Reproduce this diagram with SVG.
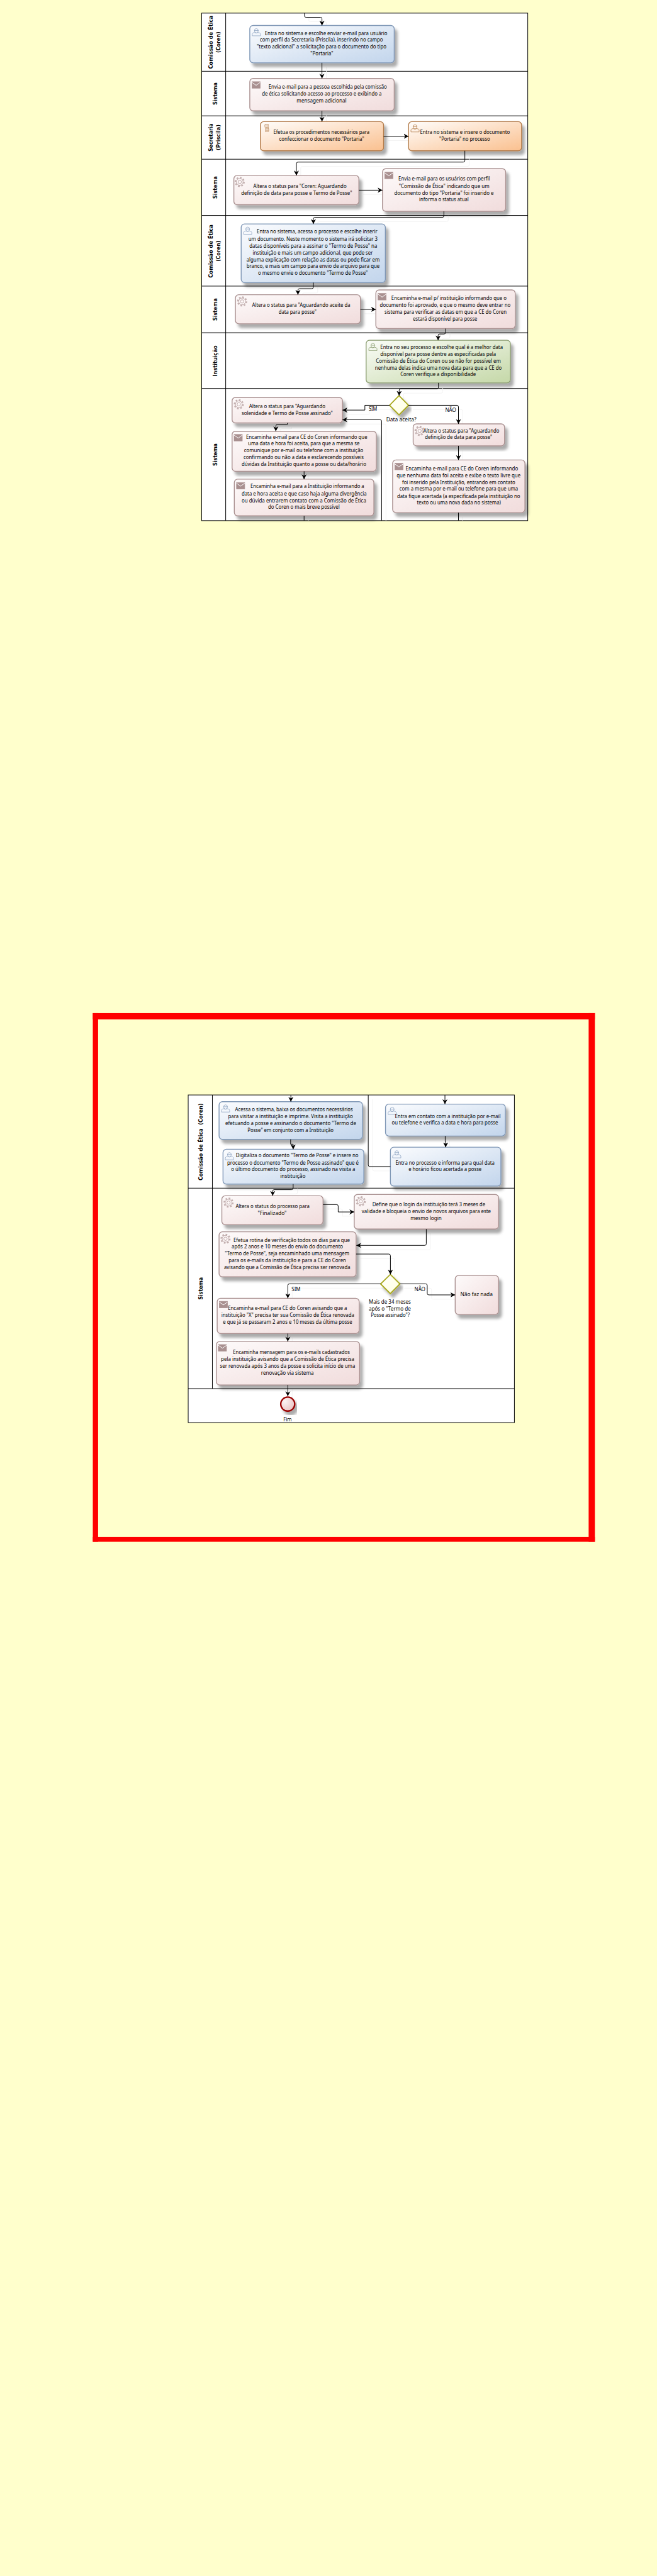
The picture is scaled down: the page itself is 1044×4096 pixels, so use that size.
<svg xmlns="http://www.w3.org/2000/svg" width="1044" height="4096" viewBox="0 0 1044 4096">
<style>
text{fill:#000;white-space:pre}
.t{font-family:"Noto Sans","DejaVu Sans",sans-serif;font-size:11px}
.sw{font-family:"DejaVu Sans","Liberation Sans",sans-serif;font-size:11px;font-weight:700;text-anchor:middle}
.pl{fill:#fff;stroke:#000;stroke-width:1.3}
.ln{stroke:#000;stroke-width:1.3;fill:none}
.b{stroke-width:1.8;filter:url(#sh)}
.blue{fill:url(#gb);stroke:#7f97b6;color:#8ba2c0}
.pink{fill:url(#gp);stroke:#a99090;color:#a99090}
.or{fill:url(#go);stroke:#b27a48;color:#b27a48}
.gr{fill:url(#gg);stroke:#8a9c70;color:#8a9c70}
.conns{fill:none;stroke:#000;stroke-width:1.3;marker-end:url(#arrow)}
.ghost{fill:none;stroke:#f3f3f3;stroke-width:1.3}
.na{marker-end:none}
.ic{fill:none;stroke:currentColor;stroke-width:1}
</style>
<defs>
<linearGradient id="gb" x1="0" y1="0" x2="1" y2="1"><stop offset="0" stop-color="#fbfcfe"/><stop offset="1" stop-color="#c2d5ec"/></linearGradient>
<linearGradient id="gp" x1="0" y1="0" x2="1" y2="1"><stop offset="0" stop-color="#fdfafa"/><stop offset="1" stop-color="#f1dcdc"/></linearGradient>
<linearGradient id="go" x1="0" y1="0" x2="1" y2="1"><stop offset="0" stop-color="#fffdfb"/><stop offset="1" stop-color="#fac08f"/></linearGradient>
<linearGradient id="gg" x1="0" y1="0" x2="1" y2="1"><stop offset="0" stop-color="#fafcf7"/><stop offset="1" stop-color="#c5d8a8"/></linearGradient>
<linearGradient id="gy" x1="0" y1="0" x2="1" y2="1"><stop offset="0" stop-color="#ffffff"/><stop offset="1" stop-color="#ffffdd"/></linearGradient>
<radialGradient id="ge" cx="0.3" cy="0.3" r="0.9"><stop offset="0" stop-color="#fbf2f2"/><stop offset="1" stop-color="#e8bcbc"/></radialGradient>
<filter id="sh" x="-10%" y="-10%" width="125%" height="135%"><feDropShadow dx="6" dy="8" stdDeviation="3" flood-color="#000" flood-opacity="0.33"/></filter>
<marker id="arrow" markerUnits="userSpaceOnUse" markerWidth="12" markerHeight="12" refX="10" refY="6" orient="auto"><path d="M0,0.7 L10,6 L0,11.3 L3,6 Z" fill="#000"/></marker>
<clipPath id="poolclip"><rect x="419.3" y="27.3" width="678.1" height="1056"/><rect x="391.3" y="2278.3" width="678.3" height="681.7"/></clipPath>
<symbol id="user" overflow="visible"><g class="ic"><path d="M0.5,15.5 V11.5 Q1,9 5,8.5 Q8.5,11 12.5,8.5 Q17,9 17.5,11.5 V15.5 Z"/><path d="M5,5 Q5,0.5 9,0.5 Q13,0.5 13,5 Q13,8.5 9,9.5 Q5,8.5 5,5 Z"/><path d="M4.5,4.5 H13.5"/></g></symbol>
<symbol id="mail" overflow="visible"><rect width="17" height="13.5" fill="currentColor"/><path d="M0,1.5 L8.5,7.5 L17,1.5" fill="none" stroke="#fff" stroke-width="1.3"/></symbol>
<symbol id="gear" overflow="visible"><circle cx="10.5" cy="10.5" r="9" fill="none" stroke="currentColor" stroke-width="3" stroke-dasharray="3.5 3.57" opacity="0.7"/><circle cx="10.5" cy="10.5" r="7" fill="#fdf8f8" stroke="currentColor" stroke-width="1"/><circle cx="10.5" cy="10.5" r="3.5" fill="none" stroke="currentColor" stroke-width="1"/></symbol>
<symbol id="script" overflow="visible"><g class="ic"><path d="M1,1 H8 Q7,4 8,8 Q9.5,12 8.5,15.5 H1.5 Q2.5,12 1.5,8 Q0,4 1,1 Z"/><path d="M2.5,4 H7 M3,7 H7 M3.5,10 H8 M3.5,13 H8"/></g></symbol>
</defs>
<rect id="background" width="1044" height="4096" fill="#ffffcc"/>
<g transform="scale(0.7642)">
<g id="frame" fill="#ff0000">
<rect x="193" y="2108" width="1044" height="13"/>
<rect x="193" y="3198" width="1044" height="10"/>
<rect x="193" y="2108" width="11" height="1100"/>
<rect x="1224" y="2108" width="13" height="1100"/>
</g>
<g id="pool1">
<rect class="pl" x="419.3" y="27.3" width="678.1" height="1056"/>
<path class="ln" d="M469.3,27.3 V1083.3 M419.3,148.3 H1097.4 M419.3,241 H1097.4 M419.3,331.3 H1097.4 M419.3,448.3 H1097.4 M419.3,595.3 H1097.4 M419.3,692.3 H1097.4 M419.3,808.3 H1097.4"/>
<text class="sw" transform="translate(442,88) rotate(-90)" textLength="110.6" lengthAdjust="spacingAndGlyphs">Comissão de Ética</text>
<text class="sw" transform="translate(457.5,88) rotate(-90)" textLength="44" lengthAdjust="spacingAndGlyphs">(Coren)</text>
<text class="sw" transform="translate(451,195) rotate(-90)" textLength="46.7" lengthAdjust="spacingAndGlyphs">Sistema</text>
<text class="sw" transform="translate(442,286) rotate(-90)" textLength="58" lengthAdjust="spacingAndGlyphs">Secretaria</text>
<text class="sw" transform="translate(457.5,286) rotate(-90)" textLength="53.7" lengthAdjust="spacingAndGlyphs">(Priscila)</text>
<text class="sw" transform="translate(451,390) rotate(-90)" textLength="46.7" lengthAdjust="spacingAndGlyphs">Sistema</text>
<text class="sw" transform="translate(442,522.7) rotate(-90)" textLength="110.6" lengthAdjust="spacingAndGlyphs">Comissão de Ética</text>
<text class="sw" transform="translate(457.5,522.4) rotate(-90)" textLength="43.3" lengthAdjust="spacingAndGlyphs">(Coren)</text>
<text class="sw" transform="translate(451,644) rotate(-90)" textLength="46.7" lengthAdjust="spacingAndGlyphs">Sistema</text>
<text class="sw" transform="translate(451,751) rotate(-90)" textLength="64.3" lengthAdjust="spacingAndGlyphs">Instituição</text>
<text class="sw" transform="translate(451,946) rotate(-90)" textLength="46.7" lengthAdjust="spacingAndGlyphs">Sistema</text>
</g>
<g id="pool2">
<rect class="pl" x="391.3" y="2278.3" width="678.3" height="681.7"/>
<path class="ln" d="M441.6,2278.3 V2889.3 M391.3,2472.2 H1069.6 M391.3,2889.3 H1069.6"/>
<text class="sw" transform="translate(421,2376) rotate(-90)" textLength="160.3" lengthAdjust="spacingAndGlyphs">Comissão de Ética  (Coren)</text>
<text class="sw" transform="translate(421,2681) rotate(-90)" textLength="46.6" lengthAdjust="spacingAndGlyphs">Sistema</text>
</g>
<g id="connector-shadows" class="ghost" clip-path="url(#poolclip)"><use href="#cp" transform="translate(9,9)"/></g>
<g id="nodes">
<g id="a"><rect class="b blue" x="519.4" y="53" width="300.3" height="77.7" rx="7"/><use href="#user" x="524" y="59" class="blue"/>
<text class="t" x="550.6" y="72.7" textLength="254.8" lengthAdjust="spacingAndGlyphs">Entra no sistema e escolhe enviar e-mail para usuário</text>
<text class="t" x="540.5" y="86.7" textLength="255.7" lengthAdjust="spacingAndGlyphs">com perfil da Secretaria (Priscila), inserindo no campo</text>
<text class="t" x="534" y="100.7" textLength="269.6" lengthAdjust="spacingAndGlyphs">"texto adicional" a solicitação para o documento do tipo</text>
<text class="t" x="645.6" y="115" textLength="47.4" lengthAdjust="spacingAndGlyphs">"Portaria"</text></g>
<g id="b"><rect class="b pink" x="519.4" y="163.3" width="300.3" height="67.4" rx="7"/><use href="#mail" x="524" y="170" class="pink"/>
<text class="t" x="558.4" y="184.7" textLength="246.1" lengthAdjust="spacingAndGlyphs">Envia e-mail para a pessoa escolhida pela comissão</text>
<text class="t" x="544.6" y="198.7" textLength="248.9" lengthAdjust="spacingAndGlyphs">de ética solicitando acesso ao processo e exibindo a</text>
<text class="t" x="616.7" y="212.7" textLength="103.8" lengthAdjust="spacingAndGlyphs">mensagem adicional</text></g>
<g id="c"><rect class="b or" x="541.4" y="253" width="256.2" height="60.7" rx="7"/><use href="#script" x="550" y="258" class="or"/>
<text class="t" x="568.5" y="278.7" textLength="199.8" lengthAdjust="spacingAndGlyphs">Efetua os procedimentos necessários para</text>
<text class="t" x="580.5" y="292.7" textLength="176.7" lengthAdjust="spacingAndGlyphs">confeccionar o documento "Portaria"</text></g>
<g id="d"><rect class="b or" x="849.5" y="253" width="235.1" height="60.7" rx="7"/><use href="#user" x="854" y="259" class="or"/>
<text class="t" x="873.4" y="278.7" textLength="186.9" lengthAdjust="spacingAndGlyphs">Entra no sistema e insere o documento</text>
<text class="t" x="913.4" y="292.7" textLength="105.6" lengthAdjust="spacingAndGlyphs">"Portaria" no processo</text></g>
<g id="e"><rect class="b pink" x="486.3" y="365" width="259.9" height="61" rx="7"/><use href="#gear" x="488" y="368" class="pink"/>
<text class="t" x="526.7" y="391" textLength="193.8" lengthAdjust="spacingAndGlyphs">Altera o status para "Coren: Aguardando</text>
<text class="t" x="501.5" y="405" textLength="230.5" lengthAdjust="spacingAndGlyphs">definição de data para posse e Termo de Posse"</text></g>
<g id="f"><rect class="b pink" x="795.3" y="351" width="256.2" height="88.7" rx="7"/><use href="#mail" x="800" y="358.3" class="pink"/>
<text class="t" x="828.4" y="376" textLength="190.1" lengthAdjust="spacingAndGlyphs">Envia e-mail para os usuários com perfil</text>
<text class="t" x="829.3" y="391" textLength="188.3" lengthAdjust="spacingAndGlyphs">"Comissão de Ética" indicando que um</text>
<text class="t" x="819.7" y="405" textLength="206.7" lengthAdjust="spacingAndGlyphs">documento do tipo "Portaria" foi inserido e</text>
<text class="t" x="871.5" y="419" textLength="102.9" lengthAdjust="spacingAndGlyphs">informa o status atual</text></g>
<g id="g"><rect class="b blue" x="501.5" y="466" width="299.8" height="122" rx="7"/><use href="#user" x="506" y="472" class="blue"/>
<text class="t" x="534" y="486" textLength="250.8" lengthAdjust="spacingAndGlyphs">Entra no sistema, acessa o processo e escolhe inserir</text>
<text class="t" x="516.6" y="501" textLength="268.6" lengthAdjust="spacingAndGlyphs">um documento. Neste momento o sistema irá solicitar 3</text>
<text class="t" x="518.5" y="516" textLength="265.8" lengthAdjust="spacingAndGlyphs">datas disponíveis para a assinar o "Termo de Posse" na</text>
<text class="t" x="525.4" y="530" textLength="249.8" lengthAdjust="spacingAndGlyphs">instituição e mais um campo adicional, que pode ser</text>
<text class="t" x="512.5" y="544" textLength="276.9" lengthAdjust="spacingAndGlyphs">alguma explicação com relação as datas ou pode ficar em</text>
<text class="t" x="512.5" y="558" textLength="276.9" lengthAdjust="spacingAndGlyphs">branco, e mais um campo para envio de arquivo para que</text>
<text class="t" x="536.4" y="572" textLength="228.2" lengthAdjust="spacingAndGlyphs">o mesmo envie o documento "Termo de Posse"</text></g>
<g id="h"><rect class="b pink" x="489.5" y="613.3" width="259.9" height="60.4" rx="7"/><use href="#gear" x="493" y="616.7" class="pink"/>
<text class="t" x="524" y="639" textLength="204.3" lengthAdjust="spacingAndGlyphs">Altera o status para "Aguardando aceite da</text>
<text class="t" x="579.5" y="653" textLength="78.6" lengthAdjust="spacingAndGlyphs">data para posse"</text></g>
<g id="i"><rect class="b pink" x="781.5" y="603.3" width="289.8" height="80.4" rx="7"/><use href="#mail" x="786" y="610.7" class="pink"/>
<text class="t" x="813.7" y="624" textLength="239.7" lengthAdjust="spacingAndGlyphs">Encaminha e-mail p/ instituição informando que o</text>
<text class="t" x="789.8" y="639" textLength="271.9" lengthAdjust="spacingAndGlyphs">documento foi aprovado, e que o mesmo deve entrar no</text>
<text class="t" x="799.5" y="653" textLength="253.9" lengthAdjust="spacingAndGlyphs">sistema para verificar as datas em que a CE do Coren</text>
<text class="t" x="858.7" y="667" textLength="133.7" lengthAdjust="spacingAndGlyphs">estará disponível para posse</text></g>
<g id="j"><rect class="b gr" x="761.3" y="708" width="299.9" height="88.7" rx="7"/><use href="#user" x="766.4" y="714" class="gr"/>
<text class="t" x="790.8" y="726" textLength="254.8" lengthAdjust="spacingAndGlyphs">Entra no seu processo e escolhe qual é a melhor data</text>
<text class="t" x="790.8" y="741" textLength="240.6" lengthAdjust="spacingAndGlyphs">disponível para posse dentre as especificadas pela</text>
<text class="t" x="781.6" y="755" textLength="259.8" lengthAdjust="spacingAndGlyphs">Comissão de Ética do Coren ou se não for possível em</text>
<text class="t" x="779.7" y="769" textLength="263.6" lengthAdjust="spacingAndGlyphs">nenhuma delas indica uma nova data para que a CE do</text>
<text class="t" x="832.5" y="783" textLength="157.1" lengthAdjust="spacingAndGlyphs">Coren verifique a disponibilidade</text></g>
<g id="gw1"><path d="M829.7,823.3 L849.4,843.3 L829.7,863.3 L810,843.3 Z" fill="url(#gy)" stroke="#a8a81e" stroke-width="2.4" filter="url(#sh)"/>
<text class="t" x="803" y="876.7" textLength="62.7" lengthAdjust="spacingAndGlyphs">Data aceita?</text>
<text class="t" x="766.7" y="855" textLength="17.6" lengthAdjust="spacingAndGlyphs">SIM</text>
<text class="t" x="925.7" y="856.7" textLength="22.6" lengthAdjust="spacingAndGlyphs">NÃO</text></g>
<g id="k"><rect class="b pink" x="482.6" y="827" width="229.6" height="53" rx="7"/><use href="#gear" x="486" y="830.7" class="pink"/>
<text class="t" x="518" y="849" textLength="158.4" lengthAdjust="spacingAndGlyphs">Altera o status para "Aguardando</text>
<text class="t" x="502.4" y="863" textLength="189.6" lengthAdjust="spacingAndGlyphs">solenidade e Termo de Posse assinado"</text></g>
<g id="l"><rect class="b pink" x="859.1" y="882" width="190.1" height="45.7" rx="7"/><use href="#gear" x="862" y="886" class="pink"/>
<text class="t" x="880.3" y="900" textLength="157.9" lengthAdjust="spacingAndGlyphs">Altera o status para "Aguardando</text>
<text class="t" x="883.5" y="914" textLength="140" lengthAdjust="spacingAndGlyphs">definição de data para posse"</text></g>
<g id="m"><rect class="b pink" x="816.4" y="957" width="275.1" height="109.7" rx="7"/><use href="#mail" x="821" y="964" class="pink"/>
<text class="t" x="843.5" y="979" textLength="233.8" lengthAdjust="spacingAndGlyphs">Encaminha e-mail para CE do Coren informando</text>
<text class="t" x="824.7" y="993" textLength="257.7" lengthAdjust="spacingAndGlyphs">que nenhuma data foi aceita e exibe o texto livre que</text>
<text class="t" x="836.2" y="1007" textLength="235.1" lengthAdjust="spacingAndGlyphs">foi inserido pela Instituição, entrando em contato</text>
<text class="t" x="830.7" y="1021" textLength="246.6" lengthAdjust="spacingAndGlyphs">com a mesma por e-mail ou telefone para que uma</text>
<text class="t" x="825.6" y="1036" textLength="255.8" lengthAdjust="spacingAndGlyphs">data fique acertada (a especificada pela instituição no</text>
<text class="t" x="867" y="1050" textLength="174.5" lengthAdjust="spacingAndGlyphs">texto ou uma nova dada no sistema)</text></g>
<g id="n"><rect class="b pink" x="482.6" y="897.3" width="299.9" height="83.4" rx="7"/><use href="#mail" x="486.8" y="904" class="pink"/>
<text class="t" x="511.6" y="913" textLength="252.1" lengthAdjust="spacingAndGlyphs">Encaminha e-mail para CE do Coren informando que</text>
<text class="t" x="515.7" y="927" textLength="231.9" lengthAdjust="spacingAndGlyphs">uma data e hora foi aceita, para que a mesma se</text>
<text class="t" x="507.4" y="941" textLength="248" lengthAdjust="spacingAndGlyphs">comunique por e-mail ou telefone com a instituição</text>
<text class="t" x="506.5" y="955" textLength="249.8" lengthAdjust="spacingAndGlyphs">confirmando ou não a data e esclarecendo possíveis</text>
<text class="t" x="502.4" y="970" textLength="259" lengthAdjust="spacingAndGlyphs">dúvidas da Instituição quanto a posse ou data/horário</text></g>
<g id="o"><rect class="b pink" x="487.2" y="997" width="290.2" height="76.3" rx="7"/><use href="#mail" x="491.8" y="1004" class="pink"/>
<text class="t" x="520.8" y="1016" textLength="236.4" lengthAdjust="spacingAndGlyphs">Encaminha e-mail para a Instituição informando a</text>
<text class="t" x="502.4" y="1031" textLength="259.9" lengthAdjust="spacingAndGlyphs">data e hora aceita e que caso haja alguma divergência</text>
<text class="t" x="502.4" y="1045" textLength="259" lengthAdjust="spacingAndGlyphs">ou dúvida entrarem contato com a Comissão de Ética</text>
<text class="t" x="557.5" y="1059" textLength="148.8" lengthAdjust="spacingAndGlyphs">do Coren o mais breve possível</text></g>
<g id="p"><rect class="b blue" x="455.5" y="2292.3" width="298.1" height="78.4" rx="7"/><use href="#user" x="460" y="2298.3" class="blue"/>
<text class="t" x="488.9" y="2312" textLength="244.8" lengthAdjust="spacingAndGlyphs">Acessa o sistema, baixa os documentos necessários</text>
<text class="t" x="474.4" y="2327" textLength="259.3" lengthAdjust="spacingAndGlyphs">para visitar a instituição e imprime. Visita a instituição</text>
<text class="t" x="468.6" y="2341" textLength="271.9" lengthAdjust="spacingAndGlyphs">efetuando a posse e assinando o documento "Termo de</text>
<text class="t" x="514.6" y="2355" textLength="178.9" lengthAdjust="spacingAndGlyphs">Posse" em conjunto com a Instituição</text></g>
<g id="q"><rect class="b blue" x="463.7" y="2391.3" width="292.8" height="72.4" rx="7"/><use href="#user" x="468" y="2397.7" class="blue"/>
<text class="t" x="490.4" y="2408" textLength="254.9" lengthAdjust="spacingAndGlyphs">Digitaliza o documento "Termo de Posse" e insere no</text>
<text class="t" x="472.4" y="2423" textLength="273.4" lengthAdjust="spacingAndGlyphs">processo o documento "Termo de Posse assinado" que é</text>
<text class="t" x="480.7" y="2437" textLength="257.9" lengthAdjust="spacingAndGlyphs">o último documento do processo, assinado na visita a</text>
<text class="t" x="582.5" y="2451" textLength="52.8" lengthAdjust="spacingAndGlyphs">instituição</text></g>
<g id="r"><rect class="b blue" x="801.6" y="2297.3" width="249.1" height="66.4" rx="7"/><use href="#user" x="806.5" y="2303.3" class="blue"/>
<text class="t" x="821" y="2326" textLength="220" lengthAdjust="spacingAndGlyphs">Entra em contato com a instituição por e-mail</text>
<text class="t" x="814.6" y="2340" textLength="221.1" lengthAdjust="spacingAndGlyphs">ou telefone e verifica a data e hora para posse</text></g>
<g id="s"><rect class="b blue" x="811.8" y="2387" width="229.7" height="80.7" rx="7"/><use href="#user" x="816" y="2393.7" class="blue"/>
<text class="t" x="822.4" y="2423" textLength="206" lengthAdjust="spacingAndGlyphs">Entra no processo e informa para qual data</text>
<text class="t" x="849.5" y="2437" textLength="151.8" lengthAdjust="spacingAndGlyphs">e horário ficou acertada a posse</text></g>
<g id="t"><rect class="b pink" x="461.3" y="2488" width="210.4" height="60.3" rx="7"/><use href="#gear" x="464.7" y="2491.7" class="pink"/>
<text class="t" x="489.9" y="2514" textLength="153.7" lengthAdjust="spacingAndGlyphs">Altera o status do processo para</text>
<text class="t" x="536" y="2528" textLength="60" lengthAdjust="spacingAndGlyphs">"Finalizado"</text></g>
<g id="u"><rect class="b pink" x="736.6" y="2485.3" width="300.1" height="72" rx="7"/><use href="#gear" x="739.6" y="2489" class="pink"/>
<text class="t" x="774.4" y="2510" textLength="234.6" lengthAdjust="spacingAndGlyphs">Define que o login da instituição terá 3 meses de</text>
<text class="t" x="752.1" y="2524" textLength="268.6" lengthAdjust="spacingAndGlyphs">validade e bloqueia o envio de novos arquivos para este</text>
<text class="t" x="853.4" y="2538" textLength="65" lengthAdjust="spacingAndGlyphs">mesmo login</text></g>
<g id="v"><rect class="b pink" x="455.5" y="2563" width="285" height="93.7" rx="7"/><use href="#gear" x="458.4" y="2567" class="pink"/>
<text class="t" x="485.5" y="2584" textLength="241.9" lengthAdjust="spacingAndGlyphs">Efetua rotina de verificação todos os dias para que</text>
<text class="t" x="481.7" y="2598" textLength="231.6" lengthAdjust="spacingAndGlyphs">após 2 anos e 10 meses do envio do documento</text>
<text class="t" x="467.6" y="2612" textLength="258.8" lengthAdjust="spacingAndGlyphs">"Termo de Posse", seja encaminhado uma mensagem</text>
<text class="t" x="475.4" y="2626" textLength="244.3" lengthAdjust="spacingAndGlyphs">para os e-mails da instituição e para a CE do Coren</text>
<text class="t" x="465.7" y="2641" textLength="262.7" lengthAdjust="spacingAndGlyphs">avisando que a Comissão de Ética precisa ser renovada</text></g>
<g id="gw2"><path d="M811.6,2651.7 L831.6,2671.4 L811.6,2691.7 L791.4,2671.4 Z" fill="url(#gy)" stroke="#a8a81e" stroke-width="2.4" filter="url(#sh)"/>
<text class="t" x="766.7" y="2712.7" textLength="87.7" lengthAdjust="spacingAndGlyphs">Mais de 34 meses</text>
<text class="t" x="766.7" y="2726.7" textLength="87.7" lengthAdjust="spacingAndGlyphs">após o "Termo de</text>
<text class="t" x="771" y="2740.7" textLength="81" lengthAdjust="spacingAndGlyphs">Posse assinado"?</text>
<text class="t" x="606.2" y="2686.7" textLength="18.8" lengthAdjust="spacingAndGlyphs">SIM</text>
<text class="t" x="861.7" y="2686.7" textLength="22.8" lengthAdjust="spacingAndGlyphs">NÃO</text></g>
<g id="w"><rect class="b pink" x="946.5" y="2654" width="90.2" height="81" rx="7"/>
<text class="t" x="957.1" y="2696.7" textLength="67.4" lengthAdjust="spacingAndGlyphs">Não faz nada</text></g>
<g id="x"><rect class="b pink" x="451.6" y="2701.3" width="295.2" height="73.4" rx="7"/><use href="#mail" x="456" y="2707.7" class="pink"/>
<text class="t" x="473.9" y="2726" textLength="247.7" lengthAdjust="spacingAndGlyphs">Encaminha e-mail para CE do Coren avisando que a</text>
<text class="t" x="460.3" y="2740" textLength="276.3" lengthAdjust="spacingAndGlyphs">instituição "X" precisa ter sua Comissão de Ética renovada</text>
<text class="t" x="463.7" y="2754" textLength="268.6" lengthAdjust="spacingAndGlyphs">e que já se passaram 2 anos e 10 meses da última posse</text></g>
<g id="y"><rect class="b pink" x="449.7" y="2791.3" width="298.1" height="90.4" rx="7"/><use href="#mail" x="454" y="2797.7" class="pink"/>
<text class="t" x="484.6" y="2817" textLength="242.8" lengthAdjust="spacingAndGlyphs">Encaminha mensagem para os e-mails cadastrados</text>
<text class="t" x="459.4" y="2832" textLength="277.2" lengthAdjust="spacingAndGlyphs">pela instituição avisando que a Comissão de Ética precisa</text>
<text class="t" x="457.4" y="2846" textLength="281.1" lengthAdjust="spacingAndGlyphs">ser renovada após 3 anos da posse e solicita início de uma</text>
<text class="t" x="542.7" y="2860" textLength="109.6" lengthAdjust="spacingAndGlyphs">renovação via sistema</text></g>
<g id="fim"><circle cx="598.3" cy="2921.5" r="14.6" fill="url(#ge)" stroke="#990000" stroke-width="3" filter="url(#sh)"/>
<text class="t" x="589.3" y="2957.7" textLength="17.4" lengthAdjust="spacingAndGlyphs">Fim</text></g>
</g>
<g id="connectors" class="conns"><g id="cp">
<path d="M633.2,27.3 V33 Q633.2,36 636.2,36 H666.5 Q669.5,36 669.5,39 V53"/>
<path d="M669.5,130.7 V163.3"/>
<path d="M669.5,230.7 V253"/>
<path d="M797.6,283.5 H849.5"/>
<path d="M966.6,313.7 V334 Q966.6,337.3 963.3,337.3 H619.6 Q616.3,337.3 616.3,340.6 V365"/>
<path d="M746.2,395.7 H795.3"/>
<path d="M923,439.7 V449 Q923,452.3 919.7,452.3 H654.9 Q651.6,452.3 651.6,455.6 V466"/>
<path d="M651.6,588 V597.4 Q651.6,600.7 648.3,600.7 H622.8 Q619.5,600.7 619.5,604 V613.3"/>
<path d="M749.4,643.7 H781.5"/>
<path d="M926.6,683.7 V691.7 Q926.6,695 923.3,695 H914.3 Q911,695 911,698.3 V708"/>
<path d="M911.7,796.7 V805.7 Q911.7,809 908.4,809 H833.3 Q830,809 830,812.3 V823.3"/>
<path d="M810,843.3 H758.7 V853.3 H712.2"/>
<path d="M849.3,843.3 H950 Q953.3,843.3 953.3,846.6 V882"/>
<path d="M953.3,927.7 V957"/>
<path class="na" d="M953.3,1066.7 V1083.3"/>
<path d="M793.5,1083.3 V876.6 Q793.5,873.3 790.2,873.3 H712.2"/>
<path d="M597.4,880 V883.3 H576.9 Q573.6,883.3 573.6,886.6 V897.3"/>
<path d="M632.3,980.7 V997"/>
<path class="na" d="M632.3,1073.3 V1083.3"/>
<path d="M604.8,2278.3 V2292.3"/>
<path class="na" d="M811.8,2427.3 H769 Q765.7,2427.3 765.7,2424 V2278.3"/>
<path d="M925.2,2278.3 V2297.3"/>
<path d="M925.7,2363.7 V2375 H926.7 V2387"/>
<path d="M604.3,2370.7 V2380.7 H609.6 V2391.3"/>
<path d="M609.6,2463.7 V2472 Q609.6,2475.3 606.3,2475.3 H570.3 Q567,2475.3 567,2478.6 V2488"/>
<path d="M671.7,2506.3 H699.9 Q703.2,2506.3 703.2,2509.6 V2521.7 H736.6"/>
<path d="M886.4,2557.3 V2588 Q886.4,2591.3 883.1,2591.3 H741"/>
<path d="M740.5,2609.3 H808.5 Q811.8,2609.3 811.8,2612.6 V2651.7"/>
<path d="M791.4,2671.3 H601.8 Q598.5,2671.3 598.5,2674.6 V2701.3"/>
<path d="M831.6,2671.3 H885.1 Q888.4,2671.3 888.4,2674.6 V2691 Q888.4,2694.3 891.7,2694.3 H946.5"/>
<path d="M598.5,2774.7 V2791.3"/>
<path d="M598.5,2881.7 V2905"/>
</g></g>
</g>
</svg>
